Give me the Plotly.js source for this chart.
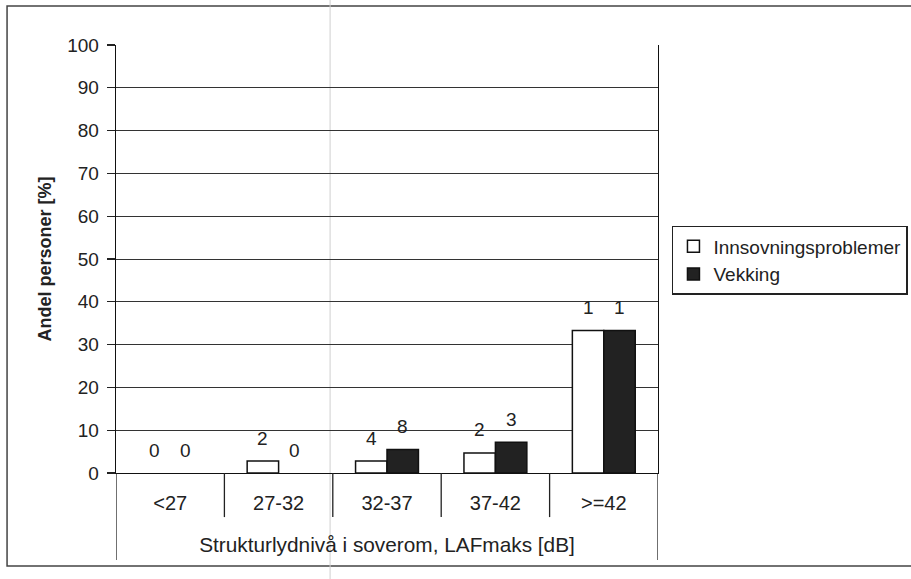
<!DOCTYPE html>
<html>
<head>
<meta charset="utf-8">
<script src="https://cdn.plot.ly/plotly-3.0.1.min.js"></script>
<style>
  html, body { margin: 0; padding: 0; background: #ffffff; }
  #chart { width: 911px; height: 579px; }
</style>
</head>
<body>
<div id="chart"></div>
<script>
// ---- data ----
const categories = ['<27', '27-32', '32-37', '37-42', '>=42'];
const innsovningPct = [0, 2.8, 2.8, 4.7, 33.3];
const vekkingPct = [0, 0, 5.5, 7.2, 33.3];
const innsovningCount = [0, 2, 4, 2, 1];
const vekkingCount = [0, 0, 8, 3, 1];
const yTickVals = [0, 10, 20, 30, 40, 50, 60, 70, 80, 90, 100];
const seriesNames = ['Innsovningsproblemer', 'Vekking'];

const FONT = 'Liberation Sans, Arial, sans-serif';
const INK = '#222222';
const xIdx = categories.map((c, i) => i);
// zero-height bars get no outline (as in the reference)
const outline = vals => vals.map(v => (v > 0 ? 1.5 : 0));
// points are handed over last-category-first so the legend swatch takes a visible outline
const rev = a => a.slice().reverse();

const traces = [
  {
    type: 'bar', name: seriesNames[0], x: rev(xIdx), y: rev(innsovningPct),
    marker: { color: '#ffffff', line: { color: '#111111', width: rev(outline(innsovningPct)) } },
    hoverinfo: 'skip'
  },
  {
    type: 'bar', name: seriesNames[1], x: rev(xIdx), y: rev(vekkingPct),
    marker: { color: '#222222', line: { color: '#111111', width: rev(outline(vekkingPct)) } },
    hoverinfo: 'skip'
  }
];

const BARGAP = 0.42;
const half = (1 - BARGAP) / 4; // center offset of each bar within its group

const annotations = [];
xIdx.forEach(i => {
  annotations.push({ x: i - half, y: innsovningPct[i], xref: 'x', yref: 'y', text: String(innsovningCount[i]),
    showarrow: false, yshift: 23, font: { family: FONT, size: 19, color: INK } });
  annotations.push({ x: i + half, y: vekkingPct[i], xref: 'x', yref: 'y', text: String(vekkingCount[i]),
    showarrow: false, yshift: 23, font: { family: FONT, size: 19, color: INK } });
});

const shapes = [];
// category separators in the label band
for (let k = 1; k < categories.length; k++) {
  shapes.push({ type: 'line', xref: 'x', yref: 'paper', x0: k - 0.5, x1: k - 0.5, y0: 0, y1: -0.103,
    line: { color: '#222', width: 1.3 } });
}
// outer lines of the label band
[-0.5, categories.length - 0.5].forEach(xv => {
  shapes.push({ type: 'line', xref: 'x', yref: 'paper', x0: xv, x1: xv, y0: 0, y1: -0.203,
    line: { color: '#222', width: 1.3 } });
});
// outer chart frame (right side runs beyond the picture)
shapes.push({ type: 'rect', xref: 'paper', yref: 'paper', x0: -0.201, x1: 1.6, y0: -0.217, y1: 1.091,
  line: { color: '#444', width: 1.5 }, fillcolor: 'rgba(0,0,0,0)', layer: 'below' });
// faint scanner line
shapes.push({ type: 'line', xref: 'paper', yref: 'paper', x0: 0.395, x1: 0.395, y0: -0.26, y1: 1.12,
  line: { color: '#cfcfcf', width: 1 }, layer: 'below' });

const layout = {
  width: 911, height: 579,
  paper_bgcolor: '#ffffff', plot_bgcolor: 'rgba(0,0,0,0)',
  margin: { l: 116, r: 253, t: 45, b: 106, pad: 0 },
  font: { family: FONT, size: 19, color: INK },
  barmode: 'group', bargap: BARGAP, bargroupgap: 0,
  showlegend: true,
  legend: {
    xref: 'container', yref: 'container',
    x: 0.7376, y: 0.6097, xanchor: 'left', yanchor: 'top',
    bordercolor: '#222', borderwidth: 1.5, bgcolor: '#ffffff',
    font: { family: FONT, size: 19, color: INK },
    tracegroupgap: 0, itemwidth: 30, traceorder: 'normal'
  },
  xaxis: {
    type: 'linear', range: [-0.5, categories.length - 0.5],
    tickmode: 'array', tickvals: xIdx, ticktext: categories,
    ticks: '', showgrid: false, zeroline: false,
    showline: true, linecolor: '#111', linewidth: 1.3,
    ticklabelstandoff: 12,
    tickfont: { family: FONT, size: 20, color: INK },
    title: { text: 'Strukturlydnivå i soverom, LAFmaks [dB]', standoff: 24,
      font: { family: FONT, size: 20.8, color: INK } },
    automargin: true, fixedrange: true
  },
  yaxis: {
    range: [0, 100], tickmode: 'array', tickvals: yTickVals,
    ticks: 'outside', ticklen: 8, tickcolor: '#222', tickwidth: 1.3,
    ticklabelstandoff: 4,
    showgrid: true, gridcolor: '#333', gridwidth: 1,
    zeroline: false, showline: true, linecolor: '#111', linewidth: 1.3, mirror: true,
    tickfont: { family: FONT, size: 19, color: INK },
    title: { text: 'Andel personer [%]', standoff: 11,
      font: { family: FONT, size: 18, color: INK, weight: 'bold' } },
    automargin: true, fixedrange: true
  },
  annotations: annotations,
  shapes: shapes
};

Plotly.newPlot('chart', traces, layout, { staticPlot: true, displayModeBar: false });
</script>
</body>
</html>
